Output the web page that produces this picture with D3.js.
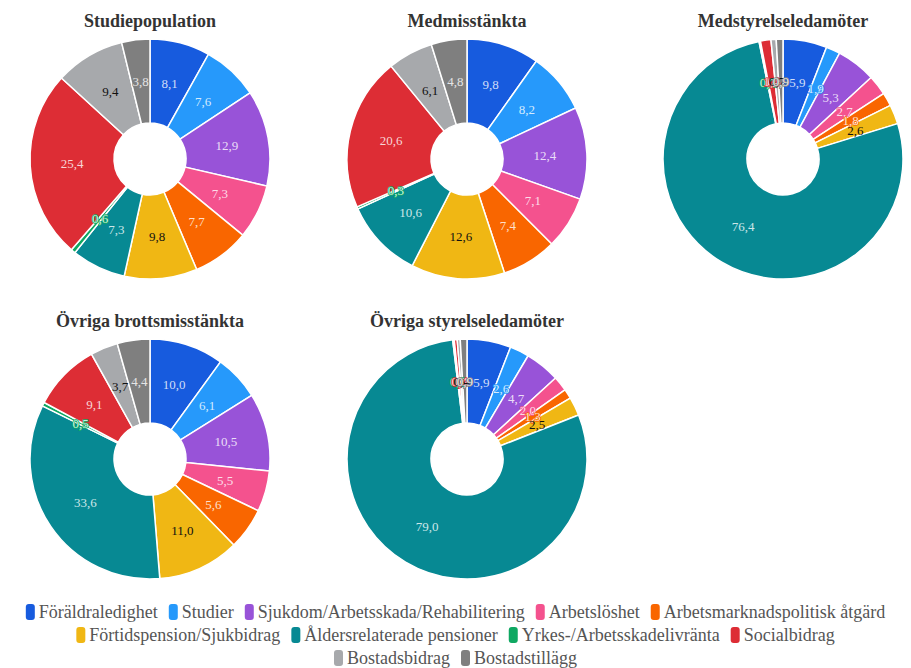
<!DOCTYPE html>
<html>
<head>
    <meta charset="utf-8">
    <style>
        html, body { margin: 0; padding: 0; background: #fff; }
        .title { font-family: 'Liberation Serif', 'DejaVu Serif', serif; font-weight: bold; fill: #333; }
        .lbl { font-family: 'Liberation Serif', 'DejaVu Serif', serif; paint-order: stroke; stroke-linejoin: round; }
        .legend text { font-family: 'Liberation Serif', 'DejaVu Serif', serif; fill: #555; }
    </style>
</head>
<body>
    <svg id="chart" width="911" height="668"></svg>

    <script src="https://cdn.jsdelivr.net/npm/d3@7"></script>

    <script>
        var categories = ["Föräldraledighet", "Studier", "Sjukdom/Arbetsskada/Rehabilitering", "Arbetslöshet",
            "Arbetsmarknadspolitisk åtgärd", "Förtidspension/Sjukbidrag", "Åldersrelaterade pensioner",
            "Yrkes-/Arbetsskadelivränta", "Socialbidrag", "Bostadsbidrag", "Bostadstillägg"];
        var colors = ["#175bde", "#2699fb", "#9853d8", "#f4528e", "#f96600", "#f0b714",
            "#078993", "#0fa862", "#dd2d35", "#a7a9ac", "#7f7f7f"];

        var titles = ["Studiepopulation", "Medmisstänkta", "Medstyrelseledamöter",
            "Övriga brottsmisstänkta", "Övriga styrelseledamöter"];

        var studiepopulation = [8.1, 7.6, 12.9, 7.3, 7.7, 9.8, 7.3, 0.6, 25.4, 9.4, 3.8];
        var medmisstankta = [9.8, 8.2, 12.4, 7.1, 7.4, 12.6, 10.6, 0.3, 20.6, 6.1, 4.8];
        var medstyrelseledamoter = [5.9, 1.9, 5.3, 2.7, 1.8, 2.6, 76.4, 0.2, 1.4, 0.7, 0.9];
        var ovrigaBrottsmisstankta = [10.0, 6.1, 10.5, 5.5, 5.6, 11.0, 33.6, 0.5, 9.1, 3.7, 4.4];
        var ovrigaStyrelseledamoter = [5.9, 2.6, 4.7, 2.0, 1.3, 2.5, 79.0, 0.2, 0.4, 0.4, 0.9];

        var series = [studiepopulation, medmisstankta, medstyrelseledamoter,
            ovrigaBrottsmisstankta, ovrigaStyrelseledamoter];

        // legend rows as in the original (number of items per row)
        var legendRowSizes = [5, 4, 2];

        var svg = d3.select("#chart");
        var color = d3.scaleOrdinal().domain(categories).range(colors);
        var darkText = ["Förtidspension/Sjukbidrag", "Bostadsbidrag"];

        var colX = [150, 467, 783], rowY = [159, 459];
        var outerR = 120, innerR = 36;

        var pie = d3.pie().sort(null).value(function(d) { return d.value; });
        var arc = d3.arc().innerRadius(innerR).outerRadius(outerR);
        var fmt = function(v) { return d3.format(".1f")(v).replace(".", ","); };

        series.forEach(function(vals, i) {
            var cx = colX[i % 3], cy = rowY[Math.floor(i / 3)];
            var data = vals.map(function(v, k) { return {cat: categories[k], value: v}; });

            svg.append("text")
                .attr("class", "title")
                .attr("x", cx)
                .attr("y", cy - 132)
                .attr("text-anchor", "middle")
                .attr("font-size", 18)
                .text(titles[i]);

            var g = svg.append("g").attr("transform", "translate(" + cx + "," + cy + ")");
            var arcs = pie(data);

            g.selectAll("path")
                .data(arcs)
                .enter().append("path")
                .attr("d", arc)
                .attr("fill", function(d) { return color(d.data.cat); })
                .attr("stroke", "#fff")
                .attr("stroke-width", 1.5);

            g.selectAll("text")
                .data(arcs)
                .enter().append("text")
                .attr("class", "lbl")
                .attr("transform", function(d) { return "translate(" + arc.centroid(d) + ")"; })
                .attr("text-anchor", "middle")
                .attr("dy", "0.35em")
                .attr("font-size", 13)
                .attr("fill", function(d) {
                    if (darkText.indexOf(d.data.cat) >= 0) return "#111";
                    return d3.interpolateRgb(color(d.data.cat), "#fff")(0.8);
                })
                .attr("stroke", function(d) {
                    if (darkText.indexOf(d.data.cat) >= 0) return "none";
                    return color(d.data.cat);
                })
                .attr("stroke-width", 1.5)
                .text(function(d) { return fmt(d.data.value); });
        });

        // legend, centered rows
        var legend = svg.append("g").attr("class", "legend");
        var fontSize = 18, boxW = 9, boxH = 16, gapBox = 4, gapItem = 11;
        var items = categories.map(function(c) {
            var t = legend.append("text").attr("font-size", fontSize).text(c);
            var w = t.node().getComputedTextLength();
            return {cat: c, node: t, w: boxW + gapBox + w};
        });
        var start = 0;
        legendRowSizes.forEach(function(n, r) {
            var row = items.slice(start, start + n);
            start += n;
            var rowW = d3.sum(row, function(it) { return it.w; }) + gapItem * (row.length - 1);
            var y = 612 + r * 23;
            var x = (911 - rowW) / 2;
            row.forEach(function(it) {
                legend.append("rect")
                    .attr("x", x).attr("y", y - boxH / 2)
                    .attr("width", boxW).attr("height", boxH)
                    .attr("rx", 3)
                    .attr("fill", color(it.cat));
                it.node.attr("x", x + boxW + gapBox).attr("y", y).attr("dy", "0.33em");
                x += it.w + gapItem;
            });
        });
    </script>
</body>
</html>
